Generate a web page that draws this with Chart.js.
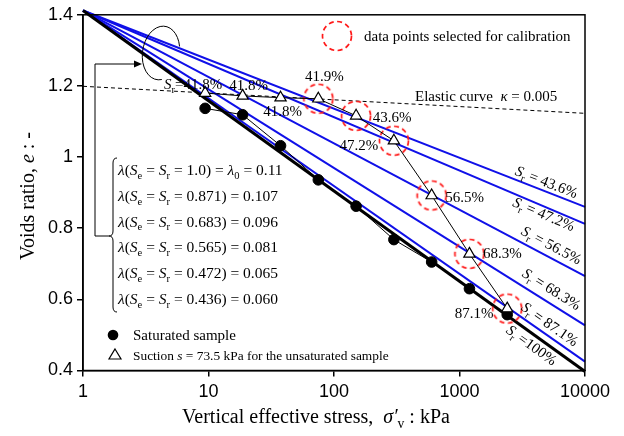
<!DOCTYPE html>
<html>
<head>
<meta charset="utf-8">
<script src="https://cdn.jsdelivr.net/npm/chart.js@4.4.0/dist/chart.umd.min.js"></script>
<style>
body{margin:0;background:#fff;}
canvas{display:block;}
</style>
</head>
<body>
<canvas id="mychart" width="624" height="436"></canvas>
<script>
const xTicks=[1,10,100,1000,10000];
const yTicks=[0.4,0.6,0.8,1.0,1.2,1.4];

// loading steps, kPa
const stress=[9.4,18.7,37.5,75,150,300,600,1200,2400];
const eSaturated=[1.137,1.119,1.032,0.936,0.862,0.768,0.705,0.630,0.557];
const eSuction=[1.180,1.172,1.167,1.164,1.116,1.046,0.892,0.728,0.574];
const calibIndex=[3,4,5,6,7,8];
const suctionLabels=['41.8%','41.8%','41.8%','41.9%','43.6%','47.2%','56.5%','68.3%','87.1%'];

// compression lines, all from (1 kPa, e0)
const e0=1.412;
const eAt10000=[0.397,0.425,0.527,0.665,0.812,0.860];
const srNames=['100%','87.1%','68.3%','56.5%','47.2%','43.6%'];
const seValues=['1.0','0.871','0.683','0.565','0.472','0.436'];
const lambdaValues=['0.11','0.107','0.096','0.081','0.065','0.060'];
const elasticE=[1.199,1.123]; // at 1 and 10000 kPa

const serif='"Liberation Serif","Times New Roman",serif';
const ctx=document.getElementById('mychart').getContext('2d');

// dashed red ring used as point style
const ring=document.createElement('canvas');
ring.width=34;ring.height=34;
const rc=ring.getContext('2d');
rc.strokeStyle='#ff1a1a';rc.lineWidth=1.7;rc.setLineDash([5,3.5]);
rc.beginPath();rc.arc(17,17,14.5,0,Math.PI*2);rc.stroke();

const pts=(xs,ys)=>xs.map((x,i)=>({x:x,y:ys[i]}));

const lineSets=eAt10000.map((e,i)=>({
    data:[{x:1,y:e0},{x:10000,y:e}],
    showLine:true,
    borderColor:i===0?'#000':'#1010e8',
    borderWidth:i===0?3:2,
    pointRadius:0,
    clip:false
}));

function drawRich(c,parts,x,y,size,align){
    const fontOf=s=>{
        const small=(s==='sub'||s==='isub');
        return ((s==='i'||s==='isub')?'italic ':'')+(small?size*0.68:size)+'px '+serif;
    };
    let w=0;
    parts.forEach(p=>{c.font=fontOf(p[1]);w+=c.measureText(p[0]).width;});
    let cx=align==='center'?x-w/2:(align==='right'?x-w:x);
    c.textAlign='left';c.textBaseline='alphabetic';
    parts.forEach(p=>{
        c.font=fontOf(p[1]);
        const dy=(p[1]==='sub'||p[1]==='isub')?size*0.25:0;
        c.fillText(p[0],cx,y+dy);
        cx+=c.measureText(p[0]).width;
    });
}

const annot={
    id:'annot',
    afterDatasetsDraw(chart){
        const c=chart.ctx,xs=chart.scales.x,ys=chart.scales.y,a=chart.chartArea;
        c.save();
        c.strokeStyle='#000';c.lineWidth=1.5;
        c.strokeRect(a.left,a.top,a.right-a.left,a.bottom-a.top);
        c.fillStyle='#000';

        // labels next to the suction points
        const offs=[[-12,-9],[6,-11],[2,13],[6,-23],[36,1],[-35,4],[33,2],[33,-1],[-33,4]];
        suctionLabels.forEach((t,i)=>{
            const px=xs.getPixelForValue(stress[i])+offs[i][0];
            const py=ys.getPixelForValue(eSuction[i])+offs[i][1]+5;
            if(i===0) drawRich(c,[['S','i'],['r','sub'],['='+t,'n']],px,py,15,'center');
            else drawRich(c,[[t,'n']],px,py,15,'center');
        });

        // Sr labels along the lines
        const pos=[[531.7,345],[550,324],[551.7,289],[551.7,245],[544,214],[546.7,181.7]];
        srNames.forEach((t,i)=>{
            const x0=xs.getPixelForValue(1),y0=ys.getPixelForValue(e0);
            const x1=xs.getPixelForValue(10000),y1=ys.getPixelForValue(eAt10000[i]);
            const ang=Math.atan2(y1-y0,x1-x0);
            c.save();c.translate(pos[i][0],pos[i][1]);c.rotate(ang);
            drawRich(c,[['S','i'],['r','sub'],[i===0?' =':' = ','n'],[t,'n']],0,5,15,'center');
            c.restore();
        });

        // elastic curve label
        drawRich(c,[['Elastic curve  ','n'],['κ','i'],[' = 0.005','n']],415,101,15,'left');

        // calibration legend
        c.drawImage(ring,337-17,36-17);
        drawRich(c,[['data points selected for calibration','n']],364,41,15,'left');

        // lambda block
        seValues.forEach((s,i)=>{
            const y=175+i*25.8;
            const parts=[['λ','i'],['(','n'],['S','i'],['e','sub'],[' = ','n'],['S','i'],['r','sub'],[' = '+s+') = ','n']];
            if(i===0) parts.push(['λ','i'],['0','sub'],[' = ','n']);
            parts.push([lambdaValues[i],'n']);
            drawRich(c,parts,118,y,15.5,'left');
        });

        // brace, arrow and ellipse
        c.lineWidth=1;c.strokeStyle='#000';
        c.beginPath();
        c.moveTo(117,158);c.quadraticCurveTo(113,158,113,163);
        c.lineTo(113,231);c.quadraticCurveTo(113,236,109,236);
        c.quadraticCurveTo(113,236,113,241);c.lineTo(113,307);
        c.quadraticCurveTo(113,312,117,312);
        c.stroke();
        c.beginPath();
        c.moveTo(109,236);c.lineTo(95,236);c.lineTo(95,64);c.lineTo(136,64);
        c.stroke();
        c.beginPath();c.moveTo(142,64);c.lineTo(134,60.5);c.lineTo(134,67.5);c.closePath();c.fill();
        c.beginPath();
        c.ellipse(161,53,18.5,27,0.15,75*Math.PI/180,340*Math.PI/180);
        c.stroke();

        // marker legend
        c.beginPath();c.arc(113,335,5.3,0,Math.PI*2);c.fill();
        drawRich(c,[['Saturated sample','n']],133,340,15,'left');
        c.beginPath();c.moveTo(115,349);c.lineTo(121,359);c.lineTo(109,359);c.closePath();
        c.lineWidth=1.2;c.stroke();
        drawRich(c,[['Suction ','n'],['s','i'],[' = 73.5 kPa for the unsaturated sample','n']],133,360,13.4,'left');

        // axis titles
        drawRich(c,[['Vertical effective stress,  ','n'],['σ′','i'],['v','sub'],[' : kPa','n']],316,423,20,'center');
        c.save();c.translate(34,196);c.rotate(-Math.PI/2);
        drawRich(c,[['Voids ratio, ','n'],['e','i'],[' : -','n']],0,0,20,'center');
        c.restore();
        c.restore();
    }
};

const mychart=new Chart(ctx,{
    type:'scatter',
    data:{
        datasets:[
            {
                data:pts(stress,eSuction),
                showLine:true,borderColor:'#000',borderWidth:1,
                pointStyle:'triangle',pointRadius:6.5,
                pointBackgroundColor:'#fff',pointBorderColor:'#000',pointBorderWidth:1.2
            },
            {
                data:calibIndex.map(i=>({x:stress[i],y:eSuction[i]})),
                showLine:false,pointStyle:ring
            },
            {
                data:pts(stress,eSaturated),
                showLine:true,borderColor:'#000',borderWidth:1,
                pointStyle:'circle',pointRadius:5.3,
                pointBackgroundColor:'#000',pointBorderColor:'#000'
            },
            ...lineSets,
            {
                data:[{x:1,y:elasticE[0]},{x:10000,y:elasticE[1]}],
                showLine:true,borderColor:'#000',borderWidth:1,borderDash:[4,3],pointRadius:0
            }
        ]
    },
    options:{
        responsive:false,
        animation:false,
        devicePixelRatio:1,
        layout:{padding:{left:0,top:13.5,right:39,bottom:0}},
        plugins:{legend:{display:false},tooltip:{enabled:false}},
        scales:{
            x:{
                type:'logarithmic',min:1,max:10000,
                afterBuildTicks:s=>{s.ticks=xTicks.map(v=>({value:v}));},
                afterFit:s=>{s.height=65.5;},
                ticks:{color:'#000',padding:5,maxRotation:0,font:{family:'"Liberation Sans",Arial,sans-serif',size:18},callback:v=>String(v)},
                grid:{drawOnChartArea:false,color:'#000',tickLength:6,lineWidth:1.5},
                border:{color:'#000',width:1.5}
            },
            y:{
                min:0.4,max:1.4,
                afterBuildTicks:s=>{s.ticks=yTicks.map(v=>({value:v}));},
                afterFit:s=>{s.width=83;},
                ticks:{color:'#000',padding:4,font:{family:'"Liberation Sans",Arial,sans-serif',size:18},callback:v=>v===1?'1':v.toFixed(1)},
                grid:{drawOnChartArea:false,color:'#000',tickLength:6,lineWidth:1.5},
                border:{color:'#000',width:1.5}
            }
        }
    },
    plugins:[annot]
});
</script>
</body>
</html>
